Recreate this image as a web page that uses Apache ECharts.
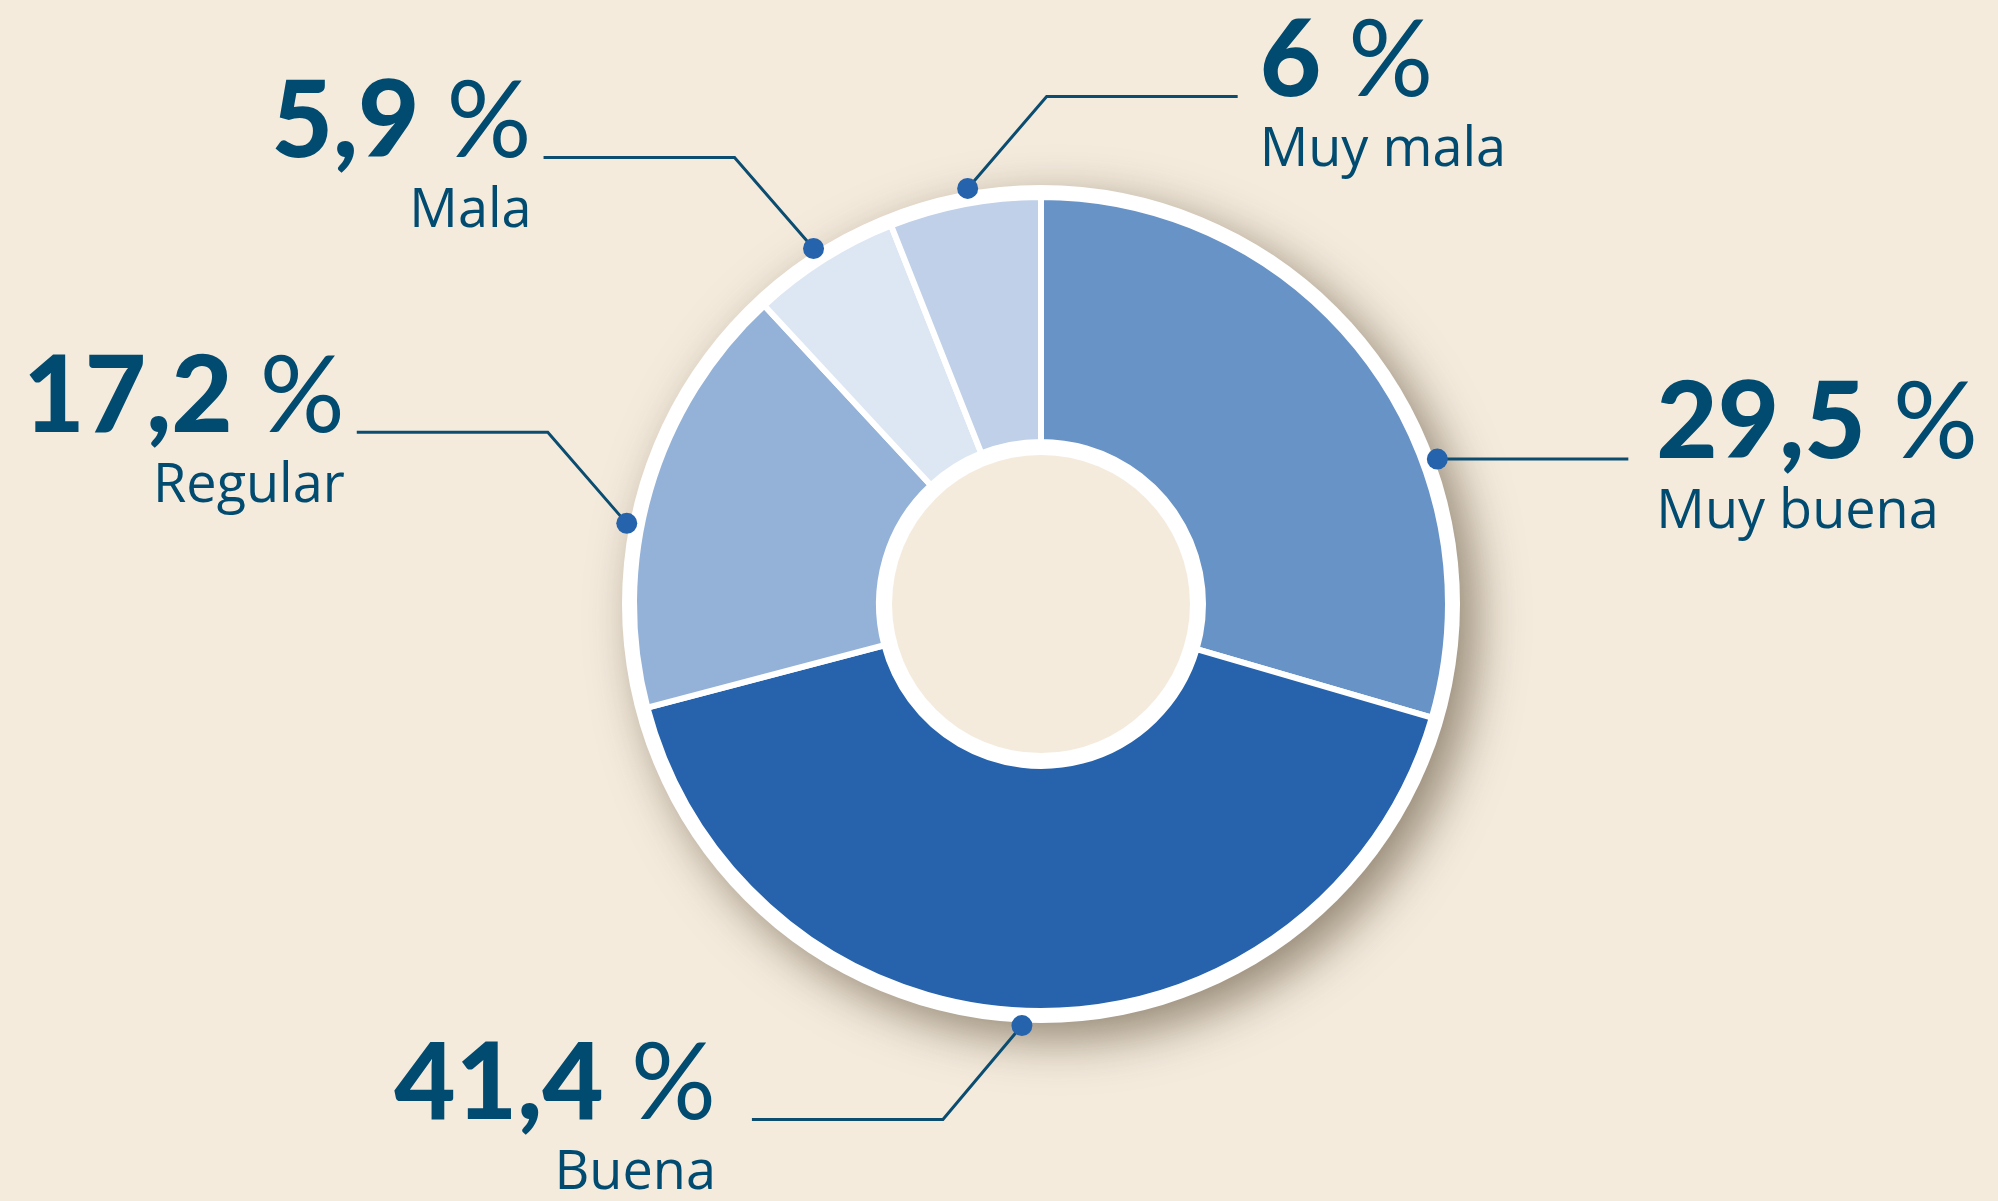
<!DOCTYPE html>
<html>
<head>
<meta charset="utf-8">
<script src="https://cdn.jsdelivr.net/npm/echarts@6/dist/echarts.min.js"></script>
<style>
  html, body { margin: 0; padding: 0; background: #F4EBDD; }
  #chart { width: 1998px; height: 1201px; }
</style>
</head>
<body>
<div id="chart"></div>
<script>
  // datos
  const categories = ['Muy buena', 'Buena', 'Regular', 'Mala', 'Muy mala'];
  const values = [29.5, 41.4, 17.2, 5.9, 6];
  const colors = ['#6893C6', '#2663AC', '#94B2D8', '#DDE7F3', '#BFD0E8'];

  // donde sale cada guia del anillo (en % de la vuelta) y hacia donde va
  const anchorPct = [19.42, 50.72, 78.06, 90.94, 97.22];
  const guides = [
    {dx: 0, dy: 0, side: 1, gap: 28},
    {dx: -79, dy: 94, side: -1, gap: 36},
    {dx: -79, dy: -91, side: -1, gap: 12},
    {dx: -79, dy: -91, side: -1, gap: 12},
    {dx: 79, dy: -92, side: 1, gap: 22}
  ];

  const center = [1041, 604];
  const textColor = '#024B70';
  const fmt = v => String(v).replace('.', ',');

  const rich = {
    v: {fontFamily: 'Lato', fontWeight: 900, fontSize: 106, lineHeight: 106, fill: textColor},
    p: {fontFamily: 'Lato', fontWeight: 400, fontSize: 106, lineHeight: 106, fill: textColor},
    n: {fontFamily: 'Open Sans', fontWeight: 400, fontSize: 54, lineHeight: 72, fill: textColor}
  };

  const chart = echarts.init(document.getElementById('chart'));
  chart.setOption({
    backgroundColor: '#F4EBDD',
    animation: false,
    polar: {center: center, radius: 422},
    angleAxis: {type: 'value', min: 0, max: 100, startAngle: 90, clockwise: true, show: false},
    radiusAxis: {type: 'value', min: 0, max: 1, show: false},
    series: [
      {
        // disco blanco con sombra
        type: 'pie', center: center, radius: [0, 419], silent: true, z: 1,
        label: {show: false}, labelLine: {show: false},
        itemStyle: {
          color: '#fff', shadowBlur: 48, shadowOffsetX: 16, shadowOffsetY: 16,
          shadowColor: 'rgba(70, 52, 30, 0.55)'
        },
        data: [{value: 1}]
      },
      {
        type: 'pie', center: center, radius: [162, 407], startAngle: 90, clockwise: true,
        silent: true, z: 2,
        label: {show: false}, labelLine: {show: false},
        itemStyle: {borderColor: '#fff', borderWidth: 6},
        data: categories.map((c, i) => ({name: c, value: values[i], itemStyle: {color: colors[i]}}))
      },
      {
        // hueco
        type: 'pie', center: center, radius: [0, 149], silent: true, z: 3,
        label: {show: false}, labelLine: {show: false},
        itemStyle: {color: '#F4EBDD'},
        data: [{value: 1}]
      },
      {
        // puntos, guias y rotulos
        type: 'custom', coordinateSystem: 'polar', z: 5, silent: true,
        data: anchorPct.map(a => [1, a]),
        renderItem: function (params, api) {
          const i = params.dataIndex;
          const g = guides[i];
          const pt = api.coord([api.value(0), api.value(1)]);
          const ex = pt[0] + g.dx;
          const ey = pt[1] + g.dy;
          const fx = ex + g.side * 191;
          return {
            type: 'group',
            children: [
              {
                type: 'polyline',
                shape: {points: [pt, [ex, ey], [fx, ey]]},
                style: {stroke: '#0B4D70', lineWidth: 3, fill: null}
              },
              {
                type: 'circle',
                shape: {cx: pt[0], cy: pt[1], r: 10.5},
                style: {fill: '#2563AC'}
              },
              {
                type: 'text',
                x: fx + g.side * g.gap,
                y: ey - 88,
                style: {
                  text: `{v|${fmt(values[i])}}{p| %}\n{n|${categories[i]}}`,
                  rich: rich,
                  align: g.side > 0 ? 'left' : 'right',
                  verticalAlign: 'top'
                }
              }
            ]
          };
        }
      }
    ]
  });
</script>
</body>
</html>
